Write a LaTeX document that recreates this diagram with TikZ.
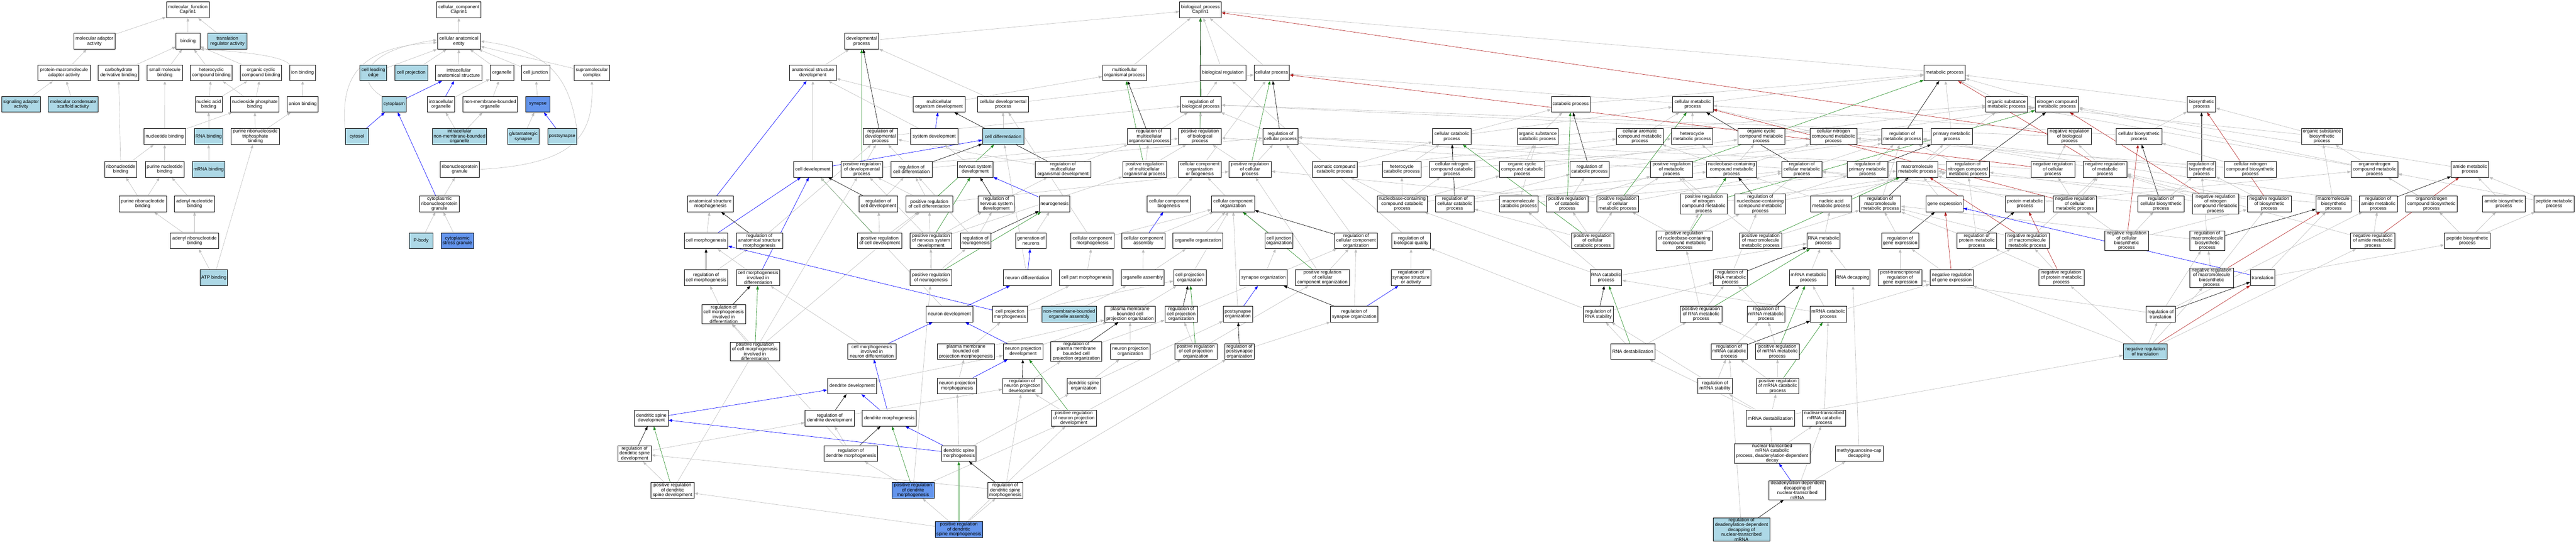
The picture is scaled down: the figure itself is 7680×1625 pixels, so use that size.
\documentclass[tikz,border=0pt]{standalone}
\usepackage{fontspec}
\setmainfont{Liberation Sans}
\usepackage{xcolor}
\usepackage{tikz}
\usetikzlibrary{arrows.meta,backgrounds}
\definecolor{lblue}{HTML}{ADD8E6}
\definecolor{cblue}{HTML}{6495ED}
\definecolor{egray}{HTML}{BEBEBE}
\definecolor{fgreen}{HTML}{228B22}
\definecolor{fred}{HTML}{B22222}

\begin{document}
\begin{tikzpicture}[x=1pt,y=-1pt,
  go/.style={draw=black, line width=1.2pt, fill=white, align=center, inner xsep=2pt, inner ysep=1pt, minimum height=47pt, font=\fontsize{14}{14.5}\selectfont},
  lb/.style={go, fill=lblue},
  cb/.style={go, fill=cblue},
  isa/.style={draw=egray, line width=1pt, -{Triangle[length=11pt,width=8pt]}},
  partof/.style={isa, draw=blue},
  reg/.style={isa, draw=black},
  preg/.style={isa, draw=fgreen},
  nreg/.style={isa, draw=fred}]
\useasboundingbox (0,0) rectangle (7680,1625);

% molecular function
\node[go, minimum width=128pt] (mf) at (560,29) {molecular\_function\\Caprin1};
\node[go, minimum width=123pt] (mad) at (281.5,123) {molecular adaptor\\activity};
\node[go, minimum width=71pt] (bind) at (560.5,123) {binding};
\node[lb, minimum width=116pt] (trra) at (678,123) {translation\\regulator activity};
\node[go, minimum width=156pt] (pmaa) at (191,217) {protein-macromolecule\\adaptor activity};
\node[go, minimum width=121pt] (cdb) at (353.5,217) {carbohydrate\\derivative binding};
\node[go, minimum width=105pt] (smb) at (491.5,217) {small molecule\\binding};
\node[go, minimum width=124pt] (hcb) at (630,217) {heterocyclic\\compound binding};
\node[go, minimum width=124pt] (occb) at (778,217) {organic cyclic\\compound binding};
\node[go, minimum width=76pt] (ionb) at (902,217) {ion binding};
\node[lb, minimum width=116pt] (sgaa) at (63,311) {signaling adaptor\\activity};
\node[lb, minimum width=148pt] (mcsa) at (218,311) {molecular condensate\\scaffold activity};
\node[go, minimum width=80pt] (nab) at (622,311) {nucleic acid\\binding};
\node[go, minimum width=145pt] (npb) at (759.5,311) {nucleoside phosphate\\binding};
\node[go, minimum width=93pt] (anb) at (902.5,311) {anion binding};
\node[go, minimum width=124pt] (ntb) at (491,407) {nucleotide binding};
\node[lb, minimum width=84pt] (rnab) at (622,407) {RNA binding};
\node[go, minimum width=144pt] (prtb) at (761,407) {purine ribonucleoside\\triphosphate\\binding};
\node[go, minimum width=96pt] (rnb) at (360,505) {ribonucleotide\\binding};
\node[go, minimum width=116pt] (pnb) at (491,505) {purine nucleotide\\binding};
\node[lb, minimum width=96pt] (mrnab) at (622,505) {mRNA binding};
\node[go, minimum width=141pt] (prnb) at (425.5,608) {purine ribonucleotide\\binding};
\node[go, minimum width=120pt] (adnb) at (580,608) {adenyl nucleotide\\binding};
\node[go, minimum width=144pt] (adrb) at (580,718) {adenyl ribonucleotide\\binding};
\node[lb, minimum width=81pt] (atpb) at (637.5,828) {ATP binding};

% cellular component
\node[go, minimum width=132pt] (cc) at (1368,29) {cellular\_component\\Caprin1};
\node[go, minimum width=128pt] (cae) at (1368,123) {cellular anatomical\\entity};
\node[lb, minimum width=80pt] (cle) at (1113,217) {cell leading\\edge};
\node[lb, minimum width=98pt] (cpj) at (1226,217) {cell projection};
\node[go, minimum width=139pt] (ias) at (1367.5,217) {intracellular\\anatomical structure};
\node[go, minimum width=71pt] (org) at (1496.5,217) {organelle};
\node[go, minimum width=84pt] (cjn) at (1597,217) {cell junction};
\node[go, minimum width=105pt] (smc) at (1764.5,217) {supramolecular\\complex};
\node[lb, minimum width=72pt] (cyto) at (1175,311) {cytoplasm};
\node[go, minimum width=82pt] (iorg) at (1315,311) {intracellular\\organelle};
\node[go, minimum width=163pt] (nmbo) at (1461.5,311) {non-membrane-bounded\\organelle};
\node[cb, minimum width=71pt] (syn) at (1603.5,311) {synapse};
\node[lb, minimum width=70pt] (cytsl) at (1064,407) {cytosol};
\node[lb, minimum width=162pt] (inmbo) at (1370,407) {intracellular\\non-membrane-bounded\\organelle};
\node[lb, minimum width=93pt] (glus) at (1560.5,407) {glutamatergic\\synapse};
\node[lb, minimum width=86pt] (psyn) at (1676,407) {postsynapse};
\node[go, minimum width=117pt] (rnpg) at (1370.5,505) {ribonucleoprotein\\granule};
\node[go, minimum width=118pt] (crnpg) at (1310,608) {cytoplasmic\\ribonucleoprotein\\granule};
\node[lb, minimum width=71pt] (pbody) at (1255.5,718) {P-body};
\node[cb, minimum width=97pt] (csg) at (1363.5,718) {cytoplasmic\\stress granule};

% biological process, rows 0-3
\node[go, minimum width=124pt] (bp) at (3579,29) {biological\_process\\Caprin1};
\node[go, minimum width=102pt] (dev) at (2569,123) {developmental\\process};
\node[go, minimum width=139pt] (asd) at (2423.5,217) {anatomical structure\\development};
\node[go, minimum width=131pt] (mop) at (3352.5,217) {multicellular\\organismal process};
\node[go, minimum width=136pt] (breg) at (3646,217) {biological regulation};
\node[go, minimum width=105pt] (cp) at (3791.5,217) {cellular process};
\node[go, minimum width=123pt] (mp) at (5797.5,217) {metabolic process};
\node[go, minimum width=155pt] (mod) at (2799.5,311) {multicellular\\organism development};
\node[go, minimum width=153pt] (cdp) at (2990.5,311) {cellular developmental\\process};
\node[go, minimum width=121pt] (rbp) at (3580.5,311) {regulation of\\biological process};
\node[go, minimum width=115pt] (catp) at (4682.5,311) {catabolic process};
\node[go, minimum width=121pt] (cmp) at (5046.5,311) {cellular metabolic\\process};
\node[go, minimum width=123pt] (osmp) at (5982.5,311) {organic substance\\metabolic process};
\node[go, minimum width=129pt] (ncmp) at (6132.5,311) {nitrogen compound\\metabolic process};
\node[go, minimum width=85pt] (bsp) at (6563.5,311) {biosynthetic\\process};

% row 4
\node[go, minimum width=102pt] (rdp) at (2625,407) {regulation of\\developmental\\process};
\node[go, minimum width=141pt] (sysd) at (2785.5,407) {system development};
\node[lb, minimum width=123pt] (cdiff) at (2990.5,407) {cell differentiation};
\node[go, minimum width=130pt] (rmop) at (3426,407) {regulation of\\multicellular\\organismal process};
\node[go, minimum width=127pt] (prbp) at (3577.5,407) {positive regulation\\of biological\\process};
\node[go, minimum width=105pt] (rcp) at (3817.5,407) {regulation of\\cellular process};
\node[go, minimum width=115pt] (ccatp) at (4328.5,407) {cellular catabolic\\process};
\node[go, minimum width=121pt] (oscp) at (4584.5,407) {organic substance\\catabolic process};
\node[go, minimum width=140pt] (camp) at (4889,407) {cellular aromatic\\compound metabolic\\process};
\node[go, minimum width=123pt] (hmp) at (5044.5,407) {heterocycle\\metabolic process};
\node[go, minimum width=140pt] (occmp) at (5251,407) {organic cyclic\\compound metabolic\\process};
\node[go, minimum width=140pt] (cncmp) at (5466,407) {cellular nitrogen\\compound metabolic\\process};
\node[go, minimum width=122pt] (rmp) at (5671,407) {regulation of\\metabolic process};
\node[go, minimum width=124pt] (pmp) at (5819,407) {primary metabolic\\process};
\node[go, minimum width=130pt] (nrbp) at (6170,407) {negative regulation\\of biological\\process};
\node[go, minimum width=136pt] (cbsp) at (6377,407) {cellular biosynthetic\\process};
\node[go, minimum width=121pt] (osbp) at (6922.5,407) {organic substance\\biosynthetic\\process};

% row 5
\node[go, minimum width=115pt] (cdev) at (2423.5,505) {cell development};
\node[go, minimum width=125pt] (prdp) at (2569.5,505) {positive regulation\\of developmental\\process};
\node[go, minimum width=123pt] (rcd) at (2717.5,505) {regulation of\\cell differentiation};
\node[go, minimum width=107pt] (nsd) at (2907.5,505) {nervous system\\development};
\node[go, minimum width=166pt] (rmod) at (3169,505) {regulation of\\multicellular\\organismal development};
\node[go, minimum width=131pt] (pmop) at (3412.5,505) {positive regulation\\of multicellular\\organismal process};
\node[go, minimum width=128pt] (ccob) at (3577,505) {cellular component\\organization\\or biogenesis};
\node[go, minimum width=126pt] (prcp) at (3727,505) {positive regulation\\of cellular\\process};
\node[go, minimum width=133pt] (acatp) at (3979.5,505) {aromatic compound\\catabolic process};
\node[go, minimum width=116pt] (hcatp) at (4179,505) {heterocycle\\catabolic process};
\node[go, minimum width=135pt] (cnccp) at (4328.5,505) {cellular nitrogen\\compound catabolic\\process};
\node[go, minimum width=134pt] (occcp) at (4538,505) {organic cyclic\\compound catabolic\\process};
\node[go, minimum width=116pt] (rcatp) at (4739,505) {regulation of\\catabolic process};
\node[go, minimum width=125pt] (prmp) at (4983.5,505) {positive regulation\\of metabolic\\process};
\node[go, minimum width=149pt] (nbcmp) at (5162.5,505) {nucleobase-containing\\compound metabolic\\process};
\node[go, minimum width=120pt] (rcmp) at (5372,505) {regulation of\\cellular metabolic\\process};
\node[go, minimum width=122pt] (rpmp) at (5568,505) {regulation of\\primary metabolic\\process};
\node[go, minimum width=122pt] (mmp) at (5716,505) {macromolecule\\metabolic process};
\node[go, minimum width=129pt] (rncmp) at (5866.5,505) {regulation of\\nitrogen compound\\metabolic process};
\node[go, minimum width=131pt] (nrcp) at (6120.5,505) {negative regulation\\of cellular\\process};
\node[go, minimum width=131pt] (nrmp) at (6275.5,505) {negative regulation\\of metabolic\\process};
\node[go, minimum width=85pt] (rbsp) at (6563.5,505) {regulation of\\biosynthetic\\process};
\node[go, minimum width=156pt] (cncbp) at (6709,505) {cellular nitrogen\\compound biosynthetic\\process};
\node[go, minimum width=139pt] (oncmp) at (7079.5,505) {organonitrogen\\compound metabolic\\process};
\node[go, minimum width=112pt] (amp) at (7364,505) {amide metabolic\\process};

% row 6
\node[go, minimum width=138pt] (asm) at (2118,608) {anatomical structure\\morphogenesis};
\node[go, minimum width=116pt] (rcdev) at (2619,608) {regulation of\\cell development};
\node[go, minimum width=139pt] (prcd) at (2770.5,608) {positive regulation\\of cell differentiation};
\node[go, minimum width=108pt] (rnsd) at (2970,608) {regulation of\\nervous system\\development};
\node[go, minimum width=92pt] (ngen) at (3144,608) {neurogenesis};
\node[go, minimum width=129pt] (ccb) at (3484.5,608) {cellular component\\biogenesis};
\node[go, minimum width=128pt] (cco) at (3676,608) {cellular component\\organization};
\node[go, minimum width=149pt] (nbccp) at (4180.5,608) {nucleobase-containing\\compound catabolic\\process};
\node[go, minimum width=115pt] (rccp) at (4337.5,608) {regulation of\\cellular catabolic\\process};
\node[go, minimum width=115pt] (mcatp) at (4527.5,608) {macromolecule\\catabolic process};
\node[go, minimum width=125pt] (prcatp) at (4672.5,608) {positive regulation\\of catabolic\\process};
\node[go, minimum width=125pt] (prcmp) at (4822.5,608) {positive regulation\\of cellular\\metabolic process};
\node[go, minimum width=139pt] (prncmp) at (5079.5,608) {positive regulation\\of nitrogen\\compound metabolic\\process};
\node[go, minimum width=150pt] (rnbcmp) at (5248,608) {regulation of\\nucleobase-containing\\compound metabolic\\process};
\node[go, minimum width=123pt] (namp) at (5459.5,608) {nucleic acid\\metabolic process};
\node[go, minimum width=123pt] (rmmp) at (5605.5,608) {regulation of\\macromolecule\\metabolic process};
\node[go, minimum width=111pt] (gexp) at (5797.5,608) {gene expression};
\node[go, minimum width=118pt] (protmp) at (6037,608) {protein metabolic\\process};
\node[go, minimum width=130pt] (nrcmp) at (6186,608) {negative regulation\\of cellular\\metabolic process};
\node[go, minimum width=137pt] (rcbsp) at (6442.5,608) {regulation of\\cellular biosynthetic\\process};
\node[go, minimum width=139pt] (nrncmp) at (6605.5,608) {negative regulation\\of nitrogen\\compound metabolic\\process};
\node[go, minimum width=131pt] (nrbsp) at (6765.5,608) {negative regulation\\of biosynthetic\\process};
\node[go, minimum width=104pt] (mbsp) at (6957,608) {macromolecule\\biosynthetic\\process};
\node[go, minimum width=113pt] (ramp) at (7090.5,608) {regulation of\\amide metabolic\\process};
\node[go, minimum width=154pt] (oncbp) at (7249,608) {organonitrogen\\compound biosynthetic\\process};
\node[go, minimum width=128pt] (abp) at (7465,608) {amide biosynthetic\\process};
\node[go, minimum width=121pt] (pepmp) at (7614.5,608) {peptide metabolic\\process};

% row 7
\node[go, minimum width=130pt] (cmorph) at (2105,718) {cell morphogenesis};
\node[go, minimum width=138pt] (rasm) at (2264,718) {regulation of\\anatomical structure\\morphogenesis};
\node[go, minimum width=133pt] (prcdev) at (2622.5,718) {positive regulation\\of cell development};
\node[go, minimum width=125pt] (prnsd) at (2775.5,718) {positive regulation\\of nervous system\\development};
\node[go, minimum width=91pt] (rngen) at (2908.5,718) {regulation of\\neurogenesis};
\node[go, minimum width=91pt] (genn) at (3073.5,718) {generation of\\neurons};
\node[go, minimum width=128pt] (ccm) at (3257,718) {cellular component\\morphogenesis};
\node[go, minimum width=128pt] (cca) at (3409,718) {cellular component\\assembly};
\node[go, minimum width=149pt] (oo) at (3571.5,718) {organelle organization};
\node[go, minimum width=84pt] (cjo) at (3813,718) {cell junction\\organization};
\node[go, minimum width=128pt] (rcco) at (4043,718) {regulation of\\cellular component\\organization};
\node[go, minimum width=116pt] (rbq) at (4207,718) {regulation of\\biological quality};
\node[go, minimum width=126pt] (prccp) at (4748,718) {positive regulation\\of cellular\\catabolic process};
\node[go, minimum width=167pt] (prnbcmp) at (5021.5,718) {positive regulation\\of nucleobase-containing\\compound metabolic\\process};
\node[go, minimum width=126pt] (prmmp) at (5249,718) {positive regulation\\of macromolecule\\metabolic process};
\node[go, minimum width=99pt] (rnamp) at (5436.5,718) {RNA metabolic\\process};
\node[go, minimum width=110pt] (rgexp) at (5665,718) {regulation of\\gene expression};
\node[go, minimum width=117pt] (rprotmp) at (5893.5,718) {regulation of\\protein metabolic\\process};
\node[go, minimum width=130pt] (nrmmp) at (6044,718) {negative regulation\\of macromolecule\\metabolic process};
\node[go, minimum width=130pt] (nrcbsp) at (6340,718) {negative regulation\\of cellular\\biosynthetic\\process};
\node[go, minimum width=105pt] (rmbsp) at (6580.5,718) {regulation of\\macromolecule\\biosynthetic\\process};
\node[go, minimum width=132pt] (nramp) at (7074,718) {negative regulation\\of amide metabolic\\process};
\node[go, minimum width=136pt] (pepbp) at (7356,718) {peptide biosynthetic\\process};

% row 8
\node[go, minimum width=130pt] (rcmorph) at (2105,828) {regulation of\\cell morphogenesis};
\node[go, minimum width=130pt] (cmid) at (2260,828) {cell morphogenesis\\involved in\\differentiation};
\node[go, minimum width=125pt] (prngen) at (2775.5,828) {positive regulation\\of neurogenesis};
\node[go, minimum width=143pt] (ndiff) at (3062.5,828) {neuron differentiation};
\node[go, minimum width=159pt] (cpm) at (3238.5,828) {cell part morphogenesis};
\node[go, minimum width=128pt] (oa) at (3407,828) {organelle assembly};
\node[go, minimum width=97pt] (cpo) at (3547.5,828) {cell projection\\organization};
\node[go, minimum width=142pt] (syno) at (3767,828) {synapse organization};
\node[go, minimum width=161pt] (prcco) at (3942.5,828) {positive regulation\\of cellular\\component organization};
\node[go, minimum width=119pt] (rssa) at (4206.5,828) {regulation of\\synapse structure\\or activity};
\node[go, minimum width=94pt] (rnacp) at (4788,828) {RNA catabolic\\process};
\node[go, minimum width=101pt] (rrnamp) at (5158.5,828) {regulation of\\RNA metabolic\\process};
\node[go, minimum width=113pt] (mrnamp) at (5391.5,828) {mRNA metabolic\\process};
\node[go, minimum width=103pt] (rnadc) at (5523.5,828) {RNA decapping};
\node[go, minimum width=130pt] (ptrge) at (5665,828) {post-transcriptional\\regulation of\\gene expression};
\node[go, minimum width=130pt] (nrgexp) at (5819,828) {negative regulation\\of gene expression};
\node[go, minimum width=135pt] (nrprotmp) at (6145.5,828) {negative regulation\\of protein metabolic\\process};
\node[go, minimum width=131pt] (nrmbsp) at (6593.5,828) {negative regulation\\of macromolecule\\biosynthetic\\process};
\node[go, minimum width=73pt] (transl) at (6745.5,828) {translation};

% row 9
\node[go, minimum width=131pt] (rcmid) at (2157.5,937) {regulation of\\cell morphogenesis\\involved in\\differentiation};
\node[go, minimum width=139pt] (ndev) at (2830.5,937) {neuron development};
\node[go, minimum width=104pt] (cpmorph) at (3011,937) {cell projection\\morphogenesis};
\node[lb, minimum width=163pt] (nmboa) at (3187.5,937) {non-membrane-bounded\\organelle assembly};
\node[go, minimum width=152pt] (pmbcpo) at (3369,937) {plasma membrane\\bounded cell\\projection organization};
\node[go, minimum width=97pt] (rcpo) at (3521.5,937) {regulation of\\cell projection\\organization};
\node[go, minimum width=87pt] (pso) at (3690.5,937) {postsynapse\\organization};
\node[go, minimum width=141pt] (rsyno) at (4037.5,937) {regulation of\\synapse organization};
\node[go, minimum width=88pt] (rrnas) at (4765,937) {regulation of\\RNA stability};
\node[go, minimum width=125pt] (prrnamp) at (5071.5,937) {positive regulation\\of RNA metabolic\\process};
\node[go, minimum width=112pt] (rmrnamp) at (5265,937) {regulation of\\mRNA metabolic\\process};
\node[go, minimum width=108pt] (mrnacp) at (5451,937) {mRNA catabolic\\process};
\node[go, minimum width=87pt] (rtransl) at (6441.5,937) {regulation of\\translation};

% row 10
\node[go, minimum width=147pt] (prcmid) at (2250.5,1048) {positive regulation\\of cell morphogenesis\\involved in\\differentiation};
\node[go, minimum width=144pt] (cmind) at (2599,1048) {cell morphogenesis\\involved in\\neuron differentiation};
\node[go, minimum width=170pt] (pmbcpm) at (2880,1048) {plasma membrane\\bounded cell\\projection morphogenesis};
\node[go, minimum width=118pt] (npd) at (3050,1048) {neuron projection\\development};
\node[go, minimum width=152pt] (rpmbcpo) at (3209,1048) {regulation of\\plasma membrane\\bounded cell\\projection organization};
\node[go, minimum width=118pt] (npo) at (3370,1048) {neuron projection\\organization};
\node[go, minimum width=126pt] (prcpo) at (3565,1048) {positive regulation\\of cell projection\\organization};
\node[go, minimum width=87pt] (rpso) at (3695.5,1048) {regulation of\\postsynapse\\organization};
\node[go, minimum width=132pt] (rnadest) at (4868,1048) {RNA destabilization};
\node[go, minimum width=108pt] (rmrnacp) at (5155,1048) {regulation of\\mRNA catabolic\\process};
\node[go, minimum width=130pt] (prmrnamp) at (5299,1048) {positive regulation\\of mRNA metabolic\\process};
\node[lb, minimum width=131pt] (nrtransl) at (6395.5,1048) {negative regulation\\of translation};

% row 11
\node[go, minimum width=147pt] (ddev) at (2540.5,1151) {dendrite development};
\node[go, minimum width=117pt] (npm) at (2853.5,1151) {neuron projection\\morphogenesis};
\node[go, minimum width=117pt] (rnpd) at (3047.5,1151) {regulation of\\neuron projection\\development};
\node[go, minimum width=100pt] (dso) at (3231,1151) {dendritic spine\\organization};
\node[go, minimum width=102pt] (rmrnas) at (5113,1151) {regulation of\\mRNA stability};
\node[go, minimum width=126pt] (prmrnacp) at (5300,1151) {positive regulation\\of mRNA catabolic\\process};

% row 12
\node[go, minimum width=100pt] (dsd) at (1942,1247) {dendritic spine\\development};
\node[go, minimum width=147pt] (rdd) at (2473.5,1247) {regulation of\\dendrite development};
\node[go, minimum width=161pt] (dmorph) at (2651.5,1247) {dendrite morphogenesis};
\node[go, minimum width=135pt] (prnpd) at (3201.5,1247) {positive regulation\\of neuron projection\\development};
\node[go, minimum width=144pt] (mrnadest) at (5278,1247) {mRNA destabilization};
\node[go, minimum width=128pt] (ntmcp) at (5438,1247) {nuclear-transcribed\\mRNA catabolic\\process};

% row 13
\node[go, minimum width=100pt] (rdsd) at (1892,1352) {regulation of\\dendritic spine\\development};
\node[go, minimum width=160pt] (rdm) at (2537,1352) {regulation of\\dendrite morphogenesis};
\node[go, minimum width=103pt] (dsm) at (2858.5,1352) {dendritic spine\\morphogenesis};
\node[go, minimum width=225pt] (ntmddd) at (5283.5,1352) {nuclear-transcribed\\mRNA catabolic\\process, deadenylation-dependent\\decay};
\node[go, minimum width=143pt] (mgcd) at (5542.5,1352) {methylguanosine-cap\\decapping};

% row 14
\node[go, minimum width=128pt] (prdsd) at (2005,1462) {positive regulation\\of dendritic\\spine development};
\node[cb, minimum width=126pt] (prdm) at (2722,1462) {positive regulation\\of dendrite\\morphogenesis};
\node[go, minimum width=104pt] (rdsm) at (2997,1462) {regulation of\\dendritic spine\\morphogenesis};
\node[go, minimum width=169pt] (dddnt) at (5358.5,1462) {deadenylation-dependent\\decapping of\\nuclear-transcribed\\mRNA};

% row 15
\node[cb, minimum width=141pt] (prdsm) at (2858.5,1579) {positive regulation\\of dendritic\\spine morphogenesis};
\node[lb, minimum width=170pt] (rdddnt) at (5192,1579) {regulation of\\deadenylation-dependent\\decapping of\\nuclear-transcribed\\mRNA};

\begin{pgfonlayer}{background}
% molecular function edges
\draw[isa] (mad) -- (mf);
\draw[isa] (bind) -- (mf);
\draw[isa] (trra) -- (mf);
\draw[isa] (pmaa) -- (mad);
\draw[isa] (cdb) -- (bind);
\draw[isa] (smb) -- (bind);
\draw[isa] (hcb) -- (bind);
\draw[isa] (occb) -- (bind);
\draw[isa] (ionb.north west) .. controls (840,160) and (650,150) .. (bind.south east);
\draw[isa] (sgaa) -- (pmaa);
\draw[isa] (mcsa) -- (pmaa);
\draw[isa] (nab) -- (hcb);
\draw[isa] (nab) -- (occb);
\draw[isa] (npb) -- (hcb);
\draw[isa] (npb) -- (occb);
\draw[isa] (anb) -- (ionb);
\draw[isa] (ntb) -- (smb);
\draw[isa] (ntb) -- (npb);
\draw[isa] (rnab) -- (nab);
\draw[isa] (prtb) -- (npb);
\draw[isa] (prtb) -- (anb);
\draw[isa] (rnb) -- (cdb);
\draw[isa] (rnb) -- (ntb);
\draw[isa] (pnb) -- (ntb);
\draw[isa] (mrnab) -- (rnab);
\draw[isa] (prnb) -- (rnb);
\draw[isa] (prnb) -- (pnb);
\draw[isa] (adnb) -- (pnb);
\draw[isa] (adrb) -- (prnb);
\draw[isa] (adrb) -- (adnb);
\draw[isa] (atpb) -- (adrb);
\draw[isa] (atpb) -- (prtb);
% cellular component edges
\draw[isa] (cae) -- (cc);
\draw[isa] (cle) -- (cae);
\draw[isa] (cpj) -- (cae);
\draw[isa] (ias) -- (cae);
\draw[isa] (org) -- (cae);
\draw[isa] (cjn) -- (cae);
\draw[isa] (smc) -- (cae);
\draw[isa] (cyto.north west) .. controls (1060,240) and (1080,150) .. ([yshift=4pt]cae.west);
\draw[partof] (cyto) -- (ias);
\draw[isa] (cytsl.north west) .. controls (1020,260) and (1040,140) .. ([yshift=-4pt]cae.west);
\draw[partof] (cytsl) -- (cyto);
\draw[partof] (iorg) -- (ias);
\draw[isa] (iorg) -- (org);
\draw[isa] (nmbo) -- (org);
\draw[isa] (syn) -- (cjn);
\draw[isa] (inmbo) -- (iorg);
\draw[isa] (inmbo) -- (nmbo);
\draw[isa] (glus) -- (syn);
\draw[partof] (psyn) -- (syn);
\draw[isa] (psyn.north east) .. controls (1700,260) and (1660,150) .. (cae.east);
\draw[isa] (rnpg.east) .. controls (1720,490) and (1770,400) .. (smc.south);
\draw[isa] (crnpg) -- (rnpg);
\draw[partof] (crnpg) -- (cyto);
\draw[isa] (pbody) -- (crnpg);
\draw[isa] (csg) -- (crnpg);
% biological process edges
\draw[isa] (dev) -- (bp);
\draw[isa] (mop) -- (bp);
\draw[isa] (breg) -- (bp);
\draw[isa] (cp) -- (bp);
\draw[isa] (mp) -- (bp);
\draw[reg] (rbp) -- (bp);
\draw[preg] (prbp) -- (bp);
\draw[nreg] (nrbp) -- (bp);
\draw[isa] (rbp) -- (breg);
\draw[isa] (prbp) -- (rbp);
\draw[isa] (nrbp) -- (rbp);
\draw[isa] (asd) -- (dev);
\draw[isa] (mod) -- (mop);
\draw[isa] (mod) -- (asd);
\draw[isa] (cdp) -- (dev);
\draw[isa] (cdp) -- (cp);
\draw[reg] (rdp) -- (dev);
\draw[isa] (rdp) -- (rbp);
\draw[preg] (prdp) -- (dev);
\draw[isa] (prdp) -- (rdp);
\draw[isa] (prdp) -- (prbp);
\draw[partof] (sysd) -- (mod);
\draw[isa] (sysd) -- (asd);
\draw[isa] (cdiff) -- (cdp);
\draw[reg] (rmop) -- (mop);
\draw[isa] (rmop) -- (rbp);
\draw[preg] (pmop) -- (mop);
\draw[isa] (pmop) -- (rmop);
\draw[isa] (pmop) -- (prbp);
\draw[reg] (rmod) -- (mod);
\draw[isa] (rmod) -- (rdp);
\draw[isa] (rmod) -- (rmop);
\draw[reg] (rcp) -- (cp);
\draw[isa] (rcp) -- (rbp);
\draw[preg] (prcp) -- (cp);
\draw[isa] (prcp) -- (rcp);
\draw[isa] (prcp) -- (prbp);
\draw[isa] (ccob) -- (cp);
\draw[isa] (cco) -- (ccob);
\draw[isa] (ccb) -- (ccob);
\draw[partof] (cca) -- (ccb);
\draw[isa] (cca) -- (cco);
\draw[isa] (oo) -- (cco);
\draw[isa] (cjo) -- (cco);
\draw[isa] (ccm) -- (cco);
\draw[isa] (ccm) -- (cdp);
\draw[isa] (cdev) -- (asd);
\draw[partof] (cdev) -- (cdiff);
\draw[reg] (rcd) -- (cdiff);
\draw[isa] (rcd) -- (rcp);
\draw[isa] (rcd) -- (rdp);
\draw[preg] (prcd) -- (cdiff);
\draw[isa] (prcd) -- (rcd);
\draw[isa] (prcd) -- (prcp);
\draw[isa] (prcd) -- (prdp);
\draw[isa] (nsd) -- (sysd);
\draw[reg] (rnsd) -- (nsd);
\draw[isa] (rnsd) -- (rmod);
\draw[partof] (ngen) -- (nsd);
\draw[reg] (rcdev) -- (cdev);
\draw[isa] (rcdev) -- (rcd);
\draw[preg] (prcdev) -- (cdev);
\draw[isa] (prcdev) -- (rcdev);
\draw[isa] (prcdev) -- (prcd);
\draw[preg] (prnsd) -- (nsd);
\draw[isa] (prnsd) -- (rnsd);
\draw[isa] (prnsd) -- (pmop);
\draw[isa] (prnsd) -- (prdp);
\draw[reg] (rngen) -- (ngen);
\draw[isa] (rngen) -- (rnsd);
\draw[isa] (rngen) -- (rcd);
\draw[isa] (genn) -- (ngen);
\draw[preg] (prngen) -- (ngen);
\draw[isa] (prngen) -- (rngen);
\draw[isa] (prngen) -- (prnsd);
\draw[isa] (prngen) -- (prcd);
\draw[partof] (ndiff) -- (genn);
\draw[isa] (ndiff) -- (cdiff);
\draw[isa] (cpm) -- (ccm);
\draw[isa] (oa) -- (oo);
\draw[isa] (oa) -- (cca);
\draw[isa] (cpo) -- (cco);
\draw[isa] (syno) -- (cjo);
\draw[partof] (asm) -- (asd);
\draw[isa] (cmorph) -- (asm);
\draw[partof] (cmorph) -- (cdev);
\draw[reg] (rasm) -- (asm);
\draw[isa] (rasm) -- (rdp);
\draw[reg] (rcmorph) -- (cmorph);
\draw[isa] (rcmorph) -- (rasm);
\draw[isa] (cmid) -- (cmorph);
\draw[partof] (cmid) -- (cdev);
\draw[reg] (rcmid) -- (cmid);
\draw[isa] (rcmid) -- (rcmorph);
\draw[preg] (prcmid) -- (cmid);
\draw[isa] (prcmid) -- (rcmid);
\draw[isa] (prcmid) -- (prcd);
\draw[partof] (ndev) -- (ndiff);
\draw[isa] (ndev) -- (cdev);
\draw[isa] (cpmorph) -- (cpm);
\draw[isa] (cpmorph) -- (cpo);
\draw[partof] (cpmorph) -- (cmorph);
\draw[isa] (nmboa) -- (oa);
\draw[isa] (pmbcpo) -- (cpo);
\draw[reg] (rcpo) -- (cpo);
\draw[isa] (rcpo) -- (rcco);
\draw[partof] (pso) -- (syno);
\draw[isa] (pso) -- (cco);
\draw[partof] (cmind) -- (ndev);
\draw[isa] (cmind) -- (cmid);
\draw[isa] (pmbcpm) -- (cpmorph);
\draw[isa] (pmbcpm) -- (pmbcpo);
\draw[partof] (npd) -- (ndev);
\draw[isa] (npd) -- (pmbcpo);
\draw[reg] (rpmbcpo) -- (pmbcpo);
\draw[isa] (rpmbcpo) -- (rcpo);
\draw[isa] (npo) -- (pmbcpo);
\draw[preg] (prcpo) -- (cpo);
\draw[isa] (prcpo) -- (rcpo);
\draw[isa] (prcpo) -- (prcco);
\draw[reg] (rpso) -- (pso);
\draw[isa] (rpso) -- (rsyno);
\draw[isa] (ddev) -- (npd);
\draw[partof] (npm) -- (npd);
\draw[isa] (npm) -- (pmbcpm);
\draw[reg] (rnpd) -- (npd);
\draw[isa] (rnpd) -- (rpmbcpo);
\draw[isa] (dso) -- (npo);
\draw[isa] (dso) -- (pso);
\draw[partof] (dmorph) -- (ddev);
\draw[partof] (dmorph) -- (cmind);
\draw[preg] (prnpd) -- (npd);
\draw[isa] (prnpd) -- (rnpd);
\draw[isa] (prnpd) -- (prcpo);
\draw[reg] (rdd) -- (ddev);
\draw[isa] (rdd) -- (rnpd);
\draw[partof] (dsd) -- (ddev);
\draw[reg] (rdm) -- (dmorph);
\draw[isa] (rdm) -- (rdd);
\draw[isa] (rdm) -- (rcmid);
\draw[partof] (dsm) -- (dmorph);
\draw[partof] (dsm) -- (dsd);
\draw[isa] (dsm) -- (npm);
\draw[isa] (dsm) -- (dso);
\draw[reg] (rdsd) -- (dsd);
\draw[isa] (rdsd) -- (rdd);
\draw[preg] (prdsd) -- (dsd);
\draw[isa] (prdsd) -- (rdsd);
\draw[isa] (prdsd) -- (prdp);
\draw[preg] (prdm) -- (dmorph);
\draw[isa] (prdm) -- (rdm);
\draw[isa] (prdm) -- (prngen);
\draw[isa] (prdm) -- (prnpd);
\draw[reg] (rdsm) -- (dsm);
\draw[isa] (rdsm) -- (rdsd);
\draw[isa] (rdsm) -- (rnpd);
\draw[isa] (rdsm) -- (rpso);
\draw[preg] (prdsm) -- (dsm);
\draw[isa] (prdsm) -- (rdsm);
\draw[isa] (prdsm) -- (prdm);
\draw[isa] (prdsm) -- (prdsd);
\draw[isa] (prdsm) -- (prnpd);
\draw[reg] (rcco) -- (cco);
\draw[isa] (rcco) -- (rcp);
\draw[preg] (prcco) -- (cco);
\draw[isa] (prcco) -- (rcco);
\draw[isa] (prcco) -- (prcp);
\draw[isa] (rbq) -- (breg);
\draw[isa] (rssa) -- (rbq);
\draw[reg] (rsyno) -- (syno);
\draw[isa] (rsyno) -- (rcco);
\draw[partof] (rsyno) -- (rssa);
% metabolic edges
\draw[isa] (catp) -- (mp);
\draw[isa] (cmp) -- (mp);
\draw[isa] (cmp) -- (cp);
\draw[reg] (rmp) -- (mp);
\draw[isa] (rmp) -- (rbp);
\draw[isa] (pmp) -- (mp);
\draw[isa] (osmp) -- (mp);
\draw[isa] (ncmp) -- (mp);
\draw[isa] (bsp) -- (mp);
\draw[preg] (prmp) -- (mp);
\draw[isa] (prmp) -- (rmp);
\draw[isa] (prmp) -- (prbp);
\draw[nreg] (nrmp) -- (mp);
\draw[isa] (nrmp) -- (rmp);
\draw[isa] (nrmp) -- (nrbp);
\draw[isa] (ccatp) -- (catp);
\draw[isa] (ccatp) -- (cmp);
\draw[isa] (oscp) -- (catp);
\draw[isa] (oscp) -- (osmp);
\draw[isa] (camp) -- (cmp);
\draw[isa] (hmp) -- (cmp);
\draw[isa] (occmp) -- (osmp);
\draw[isa] (cncmp) -- (cmp);
\draw[isa] (cncmp) -- (ncmp);
\draw[isa] (acatp) -- (camp);
\draw[isa] (acatp) -- (ccatp);
\draw[isa] (hcatp) -- (hmp);
\draw[isa] (hcatp) -- (ccatp);
\draw[isa] (cnccp) -- (ccatp);
\draw[isa] (cnccp) -- (cncmp);
\draw[isa] (occcp) -- (oscp);
\draw[isa] (occcp) -- (occmp);
\draw[reg] (rcatp) -- (catp);
\draw[isa] (rcatp) -- (rmp);
\draw[isa] (nbcmp) -- (camp);
\draw[isa] (nbcmp) -- (hmp);
\draw[isa] (nbcmp) -- (occmp);
\draw[isa] (nbcmp) -- (cncmp);
\draw[reg] (rcmp) -- (cmp);
\draw[isa] (rcmp) -- (rmp);
\draw[isa] (rcmp) -- (rcp);
\draw[reg] (rpmp) -- (pmp);
\draw[isa] (rpmp) -- (rmp);
\draw[isa] (mmp) -- (osmp);
\draw[isa] (mmp) -- (pmp);
\draw[reg] (rncmp) -- (ncmp);
\draw[isa] (rncmp) -- (rmp);
\draw[nreg] (nrcp) -- (cp);
\draw[isa] (nrcp) -- (rcp);
\draw[isa] (nrcp) -- (nrbp);
\draw[reg] (rbsp) -- (bsp);
\draw[isa] (rbsp) -- (rmp);
\draw[isa] (cncbp) -- (cbsp);
\draw[isa] (cncbp) -- (cncmp);
\draw[isa] (oncmp) -- (ncmp);
\draw[isa] (oncmp) -- (osmp);
\draw[isa] (amp) -- (ncmp);
\draw[isa] (cbsp) -- (bsp);
\draw[isa] (cbsp) -- (cmp);
\draw[isa] (osbp) -- (bsp);
\draw[isa] (osbp) -- (osmp);
\draw[isa] (nbccp) -- (nbcmp);
\draw[isa] (nbccp) -- (acatp);
\draw[isa] (nbccp) -- (hcatp);
\draw[isa] (nbccp) -- (cnccp);
\draw[isa] (nbccp) -- (occcp);
\draw[reg] (rccp) -- (ccatp);
\draw[isa] (rccp) -- (rcatp);
\draw[isa] (rccp) -- (rcmp);
\draw[isa] (mcatp) -- (oscp);
\draw[isa] (mcatp) -- (mmp);
\draw[preg] (prcatp) -- (catp);
\draw[isa] (prcatp) -- (rcatp);
\draw[isa] (prcatp) -- (prmp);
\draw[preg] (prcmp) -- (cmp);
\draw[isa] (prcmp) -- (rcmp);
\draw[isa] (prcmp) -- (prmp);
\draw[isa] (prcmp) -- (prcp);
\draw[preg] (prncmp) -- (ncmp);
\draw[isa] (prncmp) -- (rncmp);
\draw[isa] (prncmp) -- (prmp);
\draw[reg] (rnbcmp) -- (nbcmp);
\draw[isa] (rnbcmp) -- (rcmp);
\draw[isa] (rnbcmp) -- (rncmp);
\draw[isa] (rnbcmp) -- (rpmp);
\draw[isa] (namp) -- (nbcmp);
\draw[isa] (namp) -- (mmp);
\draw[reg] (rmmp) -- (mmp);
\draw[isa] (rmmp) -- (rmp);
\draw[isa] (gexp) -- (mmp);
\draw[isa] (protmp) -- (mmp);
\draw[isa] (protmp) -- (oncmp);
\draw[nreg] (nrcmp) -- (cmp);
\draw[isa] (nrcmp) -- (rcmp);
\draw[isa] (nrcmp) -- (nrmp);
\draw[isa] (nrcmp) -- (nrcp);
\draw[reg] (rcbsp) -- (cbsp);
\draw[isa] (rcbsp) -- (rbsp);
\draw[isa] (rcbsp) -- (rcmp);
\draw[nreg] (nrncmp) -- (ncmp);
\draw[isa] (nrncmp) -- (rncmp);
\draw[isa] (nrncmp) -- (nrmp);
\draw[nreg] (nrbsp) -- (bsp);
\draw[isa] (nrbsp) -- (rbsp);
\draw[isa] (nrbsp) -- (nrmp);
\draw[isa] (mbsp) -- (mmp);
\draw[isa] (mbsp) -- (osbp);
\draw[reg] (ramp) -- (amp);
\draw[isa] (ramp) -- (rmp);
\draw[isa] (oncbp) -- (oncmp);
\draw[isa] (oncbp) -- (osbp);
\draw[isa] (abp) -- (amp);
\draw[isa] (pepmp) -- (amp);
\draw[isa] (pepmp) -- (oncmp);
\draw[preg] (prccp) -- (ccatp);
\draw[isa] (prccp) -- (rccp);
\draw[isa] (prccp) -- (prcatp);
\draw[isa] (prccp) -- (prcmp);
\draw[preg] (prnbcmp) -- (nbcmp);
\draw[isa] (prnbcmp) -- (rnbcmp);
\draw[isa] (prnbcmp) -- (prcmp);
\draw[isa] (prnbcmp) -- (prncmp);
\draw[preg] (prmmp) -- (mmp);
\draw[isa] (prmmp) -- (rmmp);
\draw[isa] (prmmp) -- (prmp);
\draw[isa] (rnamp) -- (namp);
\draw[reg] (rgexp) -- (gexp);
\draw[isa] (rgexp) -- (rmmp);
\draw[reg] (rprotmp) -- (protmp);
\draw[isa] (rprotmp) -- (rmmp);
\draw[isa] (rprotmp) -- (rncmp);
\draw[nreg] (nrmmp) -- (mmp);
\draw[isa] (nrmmp) -- (rmmp);
\draw[isa] (nrmmp) -- (nrmp);
\draw[nreg] (nrcbsp) -- (cbsp);
\draw[isa] (nrcbsp) -- (rcbsp);
\draw[isa] (nrcbsp) -- (nrbsp);
\draw[isa] (nrcbsp) -- (nrcmp);
\draw[reg] (rmbsp) -- (mbsp);
\draw[isa] (rmbsp) -- (rbsp);
\draw[isa] (rmbsp) -- (rmmp);
\draw[nreg] (nramp) -- (amp);
\draw[isa] (nramp) -- (ramp);
\draw[isa] (nramp) -- (nrmp);
\draw[isa] (pepbp) -- (pepmp);
\draw[isa] (pepbp) -- (abp);
\draw[isa] (pepbp) -- (oncbp);
\draw[isa] (rnacp) -- (nbccp);
\draw[isa] (rnacp) -- (rnamp);
\draw[isa] (rnacp) -- (mcatp);
\draw[reg] (rrnamp) -- (rnamp);
\draw[isa] (rrnamp) -- (rnbcmp);
\draw[isa] (mrnamp) -- (rnamp);
\draw[isa] (rnadc) -- (rnamp);
\draw[isa] (ptrge) -- (rgexp);
\draw[nreg] (nrgexp) -- (gexp);
\draw[isa] (nrgexp) -- (rgexp);
\draw[isa] (nrgexp) -- (nrmmp);
\draw[nreg] (nrprotmp) -- (protmp);
\draw[isa] (nrprotmp) -- (rprotmp);
\draw[isa] (nrprotmp) -- (nrmmp);
\draw[nreg] (nrmbsp) -- (mbsp);
\draw[isa] (nrmbsp) -- (rmbsp);
\draw[isa] (nrmbsp) -- (nrbsp);
\draw[partof] (transl) -- (gexp);
\draw[isa] (transl) -- (pepbp);
\draw[isa] (transl) -- (mbsp);
\draw[reg] (rrnas) -- (rnacp);
\draw[isa] (rrnas) -- (rrnamp);
\draw[isa] (rrnas) -- (rbq);
\draw[preg] (prrnamp) -- (rnamp);
\draw[isa] (prrnamp) -- (rrnamp);
\draw[isa] (prrnamp) -- (prnbcmp);
\draw[reg] (rmrnamp) -- (mrnamp);
\draw[isa] (rmrnamp) -- (rrnamp);
\draw[isa] (mrnacp) -- (mrnamp);
\draw[isa] (mrnacp) -- (rnacp);
\draw[isa] (mrnacp) -- (nrgexp);
\draw[reg] (rmrnacp) -- (mrnacp);
\draw[isa] (rmrnacp) -- (rmrnamp);
\draw[preg] (prmrnamp) -- (mrnamp);
\draw[isa] (prmrnamp) -- (rmrnamp);
\draw[isa] (prmrnamp) -- (prrnamp);
\draw[preg] (rnadest) -- (rnacp);
\draw[isa] (rnadest) -- (rrnas);
\draw[isa] (rnadest) -- (prrnamp);
\draw[isa] (rmrnas) -- (rrnas);
\draw[isa] (rmrnas) -- (rmrnacp);
\draw[preg] (prmrnacp) -- (mrnacp);
\draw[isa] (prmrnacp) -- (rmrnacp);
\draw[isa] (prmrnacp) -- (prmrnamp);
\draw[isa] (mrnadest) -- (rmrnas);
\draw[isa] (mrnadest) -- (rnadest);
\draw[isa] (mrnadest) -- (prmrnacp);
\draw[isa] (mrnadest) -- (nrtransl);
\draw[isa] (ntmcp) -- (mrnacp);
\draw[isa] (ntmddd) -- (ntmcp);
\draw[isa] (ntmddd) -- (mrnadest);
\draw[isa] (mgcd) -- (rnadc);
\draw[partof] (dddnt) -- (ntmddd);
\draw[isa] (dddnt) -- (mgcd);
\draw[isa] (dddnt) -- (ntmcp);
\draw[reg] (rdddnt) -- (dddnt);
\draw[isa] (rdddnt) -- (rmrnacp);
\draw[reg] (rtransl) -- (transl);
\draw[isa] (rtransl) -- (ramp);
\draw[isa] (rtransl) -- (ptrge);
\draw[isa] (rtransl) -- (rmbsp);
\draw[nreg] (nrtransl) -- (transl);
\draw[isa] (nrtransl) -- (rtransl);
\draw[isa] (nrtransl) -- (nramp);
\draw[isa] (nrtransl) -- (nrgexp);
\draw[isa] (nrtransl) -- (nrprotmp);
\draw[isa] (nrtransl) -- (nrmbsp);
\end{pgfonlayer}
\end{tikzpicture}
\end{document}
